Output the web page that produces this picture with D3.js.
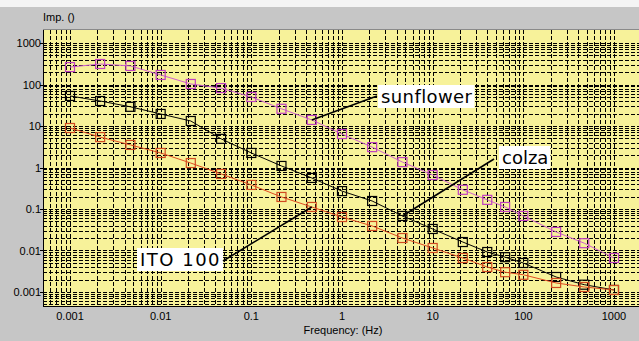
<!DOCTYPE html>
<html><head><meta charset="utf-8">
<script src="https://cdn.jsdelivr.net/npm/d3@7"></script>
<style>html,body{margin:0;padding:0;background:#c6c6c6;}svg{display:block;}</style>
</head><body>
<svg id="chart" width="639" height="341"></svg>
<script>
const freq = [0.001,0.00215,0.00464,0.01,0.0215,0.0464,0.1,0.215,0.464,1,2.15,4.64,10,21.5,40,63,100,230,470,1000];
const sunflower = [263,312,280,170,103,82,50,26,14,6.4,3.1,1.35,0.66,0.29,0.166,0.112,0.068,0.028,0.015,0.0066];
const colza = [53,40,29,19.5,13.2,4.9,2.24,1.09,0.56,0.27,0.156,0.068,0.033,0.016,0.0092,0.0069,0.0050,0.0023,0.0015,0.00112];
const ito100 = [8.95,5.4,3.5,2.24,1.28,0.70,0.38,0.195,0.112,0.064,0.039,0.020,0.0115,0.0066,0.0040,0.0030,0.0026,0.00165,0.00132,0.00112];
const xTicks = [0.001,0.01,0.1,1,10,100,1000];
const yTicks = [0.001,0.01,0.1,1,10,100,1000];
const xTickLabels = ["0.001","0.01","0.1","1","10","100","1000"];
const yTickLabels = ["0.001","0.01","0.1","1","10","100","1000"];
const seriesNames = ["sunflower","colza","ITO 100"];

const svg = d3.select("#chart");
const W = 639, H = 341;
const plot = {x0:43, x1:639, y0:30, y1:306};

svg.append("rect").attr("x",0).attr("y",0).attr("width",W).attr("height",H).attr("fill","#c6c6c6");
svg.append("rect").attr("x",0).attr("y",0).attr("width",W).attr("height",7).attr("fill","#f4f4f4");

const x = d3.scaleLog().domain([0.001,1000]).range([70,614]);
const y = d3.scaleLog().domain([0.001,1000]).range([292,43]);

svg.append("rect").attr("x",plot.x0).attr("y",plot.y0).attr("width",plot.x1-plot.x0).attr("height",plot.y1-plot.y0).attr("fill","#f7f29a");

const defs = svg.append("defs");
defs.append("clipPath").attr("id","clip").append("rect")
  .attr("x",plot.x0).attr("y",plot.y0).attr("width",plot.x1-plot.x0).attr("height",plot.y1-plot.y0);

const gridVals = [];
for (let e=-4;e<=4;e++) for (let k=1;k<=9;k++) gridVals.push(k*Math.pow(10,e));
const gx = gridVals.filter(v => x(v)>=plot.x0+1 && x(v)<=plot.x1);
const gy = gridVals.filter(v => y(v)>=plot.y0+1 && y(v)<=plot.y1-1);

const grid = svg.append("g").attr("clip-path","url(#clip)");
grid.selectAll("line.gx").data(gx).join("line")
  .attr("x1",d=>Math.round(x(d))+0.5).attr("x2",d=>Math.round(x(d))+0.5)
  .attr("y1",plot.y0).attr("y2",plot.y1)
  .attr("stroke","#000").attr("stroke-width",1).attr("stroke-dasharray","4,2");
grid.selectAll("line.gy").data(gy).join("line")
  .attr("y1",d=>Math.round(y(d))+0.5).attr("y2",d=>Math.round(y(d))+0.5)
  .attr("x1",plot.x0).attr("x2",plot.x1)
  .attr("stroke","#000").attr("stroke-width",1).attr("stroke-dasharray","4,2");

svg.append("line").attr("x1",plot.x0+0.5).attr("x2",plot.x0+0.5).attr("y1",plot.y0).attr("y2",plot.y1).attr("stroke","#000");
svg.append("line").attr("x1",plot.x0).attr("x2",plot.x1).attr("y1",plot.y1+0.5).attr("y2",plot.y1+0.5).attr("stroke","#000");
svg.append("line").attr("x1",plot.x0).attr("x2",plot.x1).attr("y1",plot.y0-0.5).attr("y2",plot.y0-0.5).attr("stroke","#8a8a8a");

svg.selectAll("line.yt").data(yTicks).join("line")
  .attr("x1",plot.x0-3).attr("x2",plot.x0).attr("y1",d=>Math.round(y(d))+0.5).attr("y2",d=>Math.round(y(d))+0.5).attr("stroke","#000");
svg.selectAll("text.yl").data(yTicks).join("text")
  .attr("x",41).attr("y",d=>y(d)+4).attr("text-anchor","end")
  .attr("font-family","Liberation Sans, Arial, sans-serif").attr("font-size",11).attr("fill","#000")
  .text((d,i)=>yTickLabels[i]);
svg.selectAll("text.xl").data(xTicks).join("text")
  .attr("x",d=>x(d)).attr("y",320).attr("text-anchor","middle")
  .attr("font-family","Liberation Sans, Arial, sans-serif").attr("font-size",11).attr("fill","#000")
  .text((d,i)=>xTickLabels[i]);

svg.append("text").attr("x",43).attr("y",21).attr("font-family","Liberation Sans, Arial, sans-serif").attr("font-size",11).text("Imp. ()");
svg.append("text").attr("x",343).attr("y",334).attr("text-anchor","middle").attr("font-family","Liberation Sans, Arial, sans-serif").attr("font-size",11).text("Frequency: (Hz)");

const series = [
  {name:seriesNames[0], vals:sunflower, line:"#d060d0", mark:"#c040c0"},
  {name:seriesNames[1], vals:colza, line:"#000", mark:"#000"},
  {name:seriesNames[2], vals:ito100, line:"#e04a20", mark:"#d04a20"}
];
const lineGen = d3.line().x(d=>x(d[0])).y(d=>y(d[1]));
const sg = svg.append("g").attr("clip-path","url(#clip)");
series.forEach(s => {
  const pts = freq.map((f,i)=>[f,s.vals[i]]);
  sg.append("path").datum(pts).attr("d",lineGen).attr("fill","none").attr("stroke",s.line).attr("stroke-width",1);
  sg.selectAll(null).data(pts).join("rect")
    .attr("x",d=>x(d[0])-4.5).attr("y",d=>y(d[1])-4.5).attr("width",9).attr("height",9)
    .attr("fill","none").attr("stroke",s.mark).attr("stroke-width",1.2);
});

function annot(label, fx, fy, lx1, ly1, tx, ty, ls) {
  const g = svg.append("g");
  const t = g.append("text").attr("x",tx).attr("y",ty)
    .attr("font-family","DejaVu Sans, sans-serif").attr("font-size",18).attr("letter-spacing",ls).attr("fill","#000").text(label);
  const bb = t.node().getBBox();
  g.insert("rect","text").attr("x",bb.x-3).attr("y",bb.y-1).attr("width",bb.width+5).attr("height",bb.height+2).attr("fill","#fff");
  svg.append("line").attr("x1",x(fx)).attr("y1",y(fy)).attr("x2",lx1).attr("y2",ly1)
    .attr("stroke","#000").attr("stroke-width",1.6);
}
annot(seriesNames[0], freq[8], sunflower[8], 377, 96, 381, 103, 0.4);
annot(seriesNames[1], freq[11], colza[11], 494, 159, 502, 164, 0);
annot(seriesNames[2], freq[8], ito100[8], 223, 261, 140, 266, 1.5);
</script>
</body></html>
